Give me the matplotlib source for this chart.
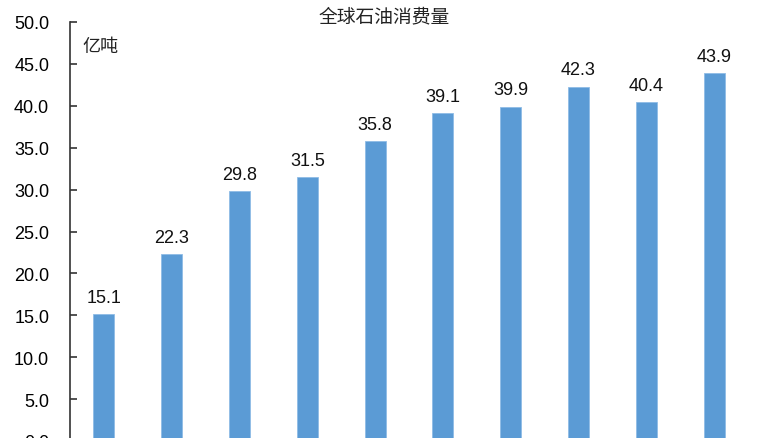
import matplotlib.pyplot as plt

plt.rcParams['font.family'] = ['Liberation Sans', 'Noto Sans CJK SC', 'DejaVu Sans']

# data (x labels are cut off below the image, so not shown)
years = ['1965', '1970', '1975', '1980', '1990', '2000', '2005', '2010', '2015', '2020']
consumption = [15.1, 22.3, 29.8, 31.5, 35.8, 39.1, 39.9, 42.3, 40.4, 43.9]
yticks = [0, 5, 10, 15, 20, 25, 30, 35, 40, 45, 50]

fig = plt.figure(figsize=(7.64, 4.39), dpi=100)
ax = fig.add_axes([70 / 764, 1 - 442 / 439, 678 / 764, 419 / 439])

x = range(len(years))
bars = ax.bar(x, consumption, width=0.31, color='#5B9BD5', edgecolor='#8FBCE6', linewidth=0.6)

for xi, v in zip(x, consumption):
    ax.text(xi, v + 1.0, f'{v:.1f}', ha='center', va='bottom', fontsize=13, color='#111111')

ax.set_xlim(-0.5, len(years) - 0.5)
ax.set_ylim(0, 50)
ax.set_yticks(yticks)
ax.set_yticklabels([f'{t:.1f}' for t in yticks], fontsize=13)
ax.set_xticks(list(x))
ax.set_xticklabels([])

for s in ['top', 'right']:
    ax.spines[s].set_visible(False)
ax.spines['left'].set_color('#333333')
ax.spines['left'].set_linewidth(1.2)
ax.spines['bottom'].set_color('#333333')
ax.tick_params(axis='y', direction='in', length=5, width=1.2, color='#333333', pad=15)
ax.tick_params(axis='x', length=0)

ax.text(-0.31, 47.1, '亿吨', fontsize=13, family=['Noto Sans CJK SC'], color='#222222',
        ha='left', va='center')
fig.text(384 / 764, 1 - 17 / 439, '全球石油消费量', fontsize=13.5, family=['Noto Sans CJK SC'],
         color='#222222', ha='center', va='center')

fig.savefig('out.png', dpi=100)
